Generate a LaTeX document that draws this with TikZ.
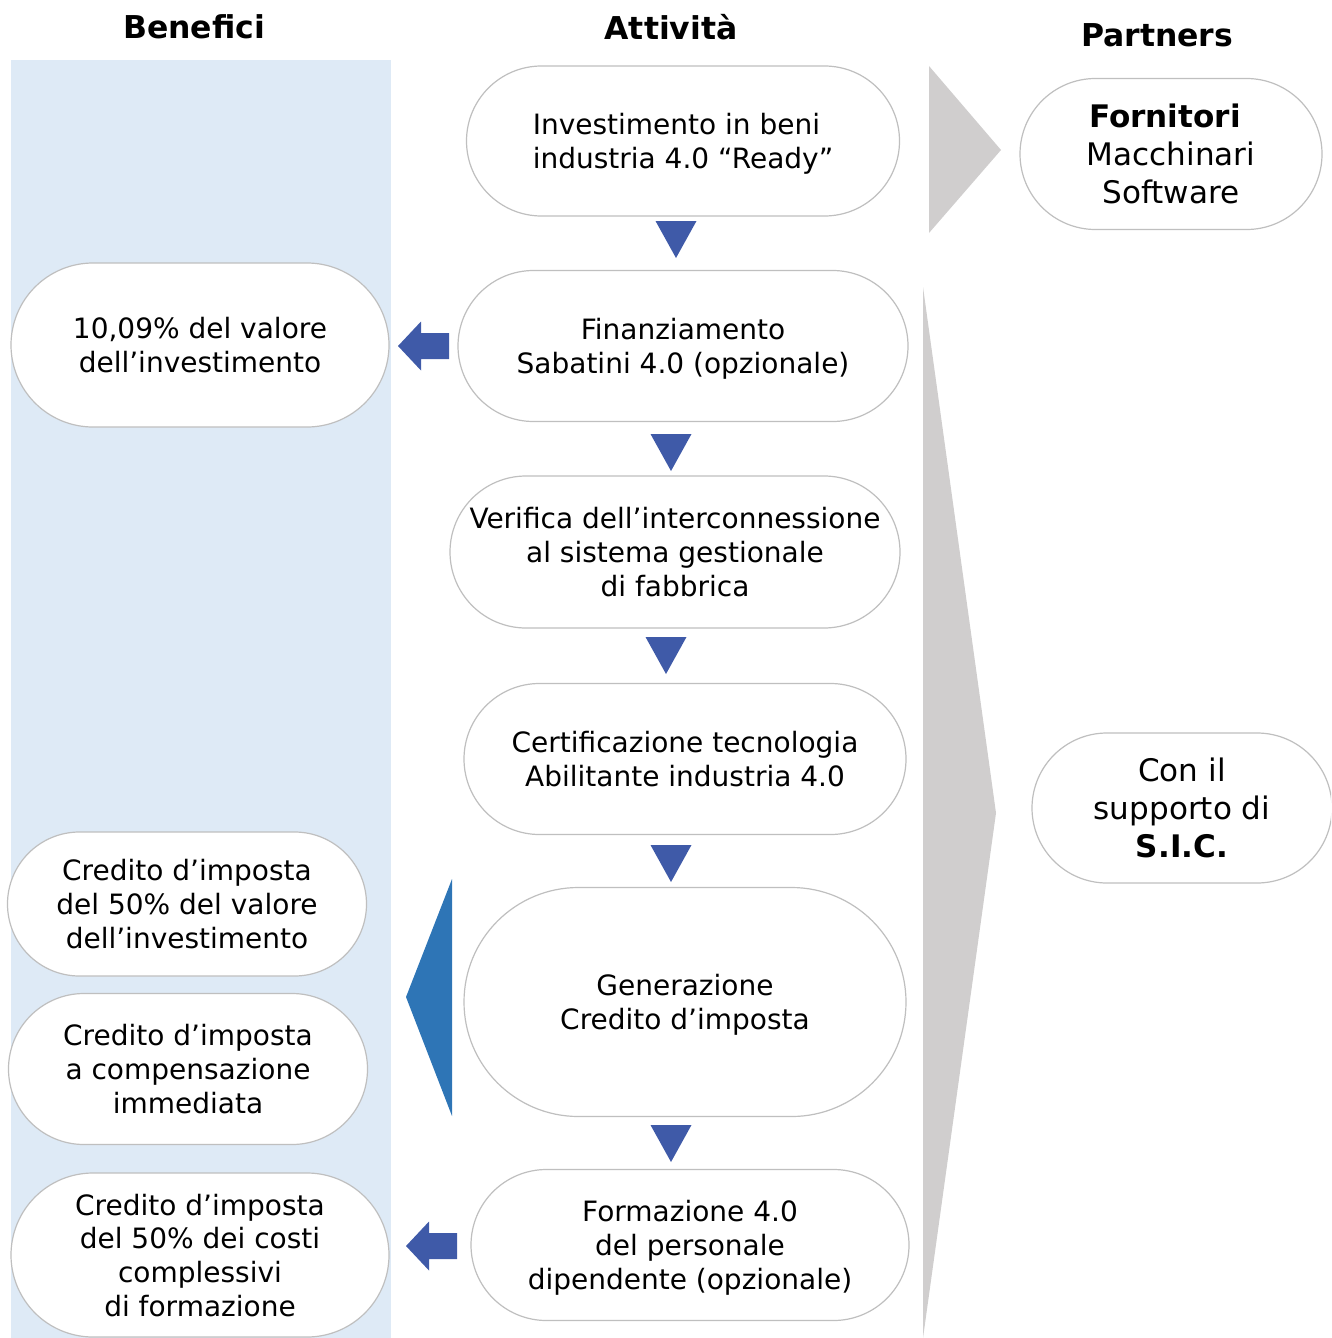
\documentclass[tikz,border=0pt]{standalone}
\usepackage{fontspec}
\setmainfont{DejaVu Sans}
\usepackage{xcolor}
\usepackage{tikz}
\usetikzlibrary{positioning,calc}

\definecolor{panelblue}{HTML}{DEEAF6}
\definecolor{flowblue}{HTML}{3F5AA8}
\definecolor{bigblue}{HTML}{2E75B6}
\definecolor{partgray}{HTML}{D0CECE}
\definecolor{edgegray}{HTML}{BFBFBF}

\begin{document}
\begin{tikzpicture}[x=0.75pt, y=-0.75pt,
        block/.style 2 args={draw=edgegray, line width=0.9pt, fill=white, rectangle, align=center, inner sep=0pt,
            minimum width=#1*0.75pt, minimum height=#2*0.75pt, rounded corners=#2*0.375pt,
            text depth=0pt, font=\fontsize{21}{25.3}\selectfont},
        partner/.style={font=\fontsize{23.3}{28.5}\selectfont},
        title/.style={font=\bfseries\fontsize{23.6}{28}\selectfont},
        flow/.style={fill=flowblue}
    ]
        \clip (0,0) rectangle (1331,1338);
        \fill[panelblue] (11,60) rectangle (391,1338);

        % partner triangles
        \fill[partgray] (929,66) -- (1001,150) -- (929,233) -- cycle;
        \fill[partgray] (923,287) -- (996,813) -- (923,1338) -- cycle;

        \node [title] (hben) at (194,27) {Benefici};
        \node [title] (hatt) at (671,27) {Attività};
        \node [title] (hpar) at (1157,35) {Partners};

        % attivita
        \node [block={433}{150}, align=left] (inv) at (683,141) {Investimento in beni\\industria 4.0 “Ready”};
        \node [block={450}{151}] (fin) at (683,346) {Finanziamento\\Sabatini 4.0 (opzionale)};
        \node [block={450}{152}] (ver) at (675,552) {Verifica dell’interconnessione\\al sistema gestionale\\di fabbrica};
        \node [block={442}{151}] (cert) at (685,759) {Certificazione tecnologia\\Abilitante industria 4.0};
        \node [block={442}{229}] (gen) at (685,1002) {Generazione\\Credito d’imposta};
        \node [block={438}{151}] (form) at (690,1245) {Formazione 4.0\\del personale\\dipendente (opzionale)};

        % benefici
        \node [block={378}{164}] (perc) at (200,345) {10,09\% del valore\\dell’investimento};
        \node [block={359}{144}] (cred) at (187,904) {Credito d’imposta\\del 50\% del valore\\dell’investimento};
        \node [block={359}{151}] (comp) at (188,1069) {Credito d’imposta\\a compensazione\\immediata};
        \node [block={378}{164}] (costi) at (200,1255) {Credito d’imposta\\del 50\% dei costi\\complessivi\\di formazione};

        % partners
        \node [block={302}{151}, partner] (forn) at (1171,154) {\textbf{Fornitori}\hspace*{9pt}\\Macchinari\\Software};
        \node [block={300}{150}, partner] (sic) at (1182,808) {Con il\\supporto di\\\textbf{S.I.C.}};

        % flow
        \foreach \x/\y in {676/221, 671/434, 666/637, 671/845, 671/1125}
            \fill[flow] (\x-20.5,\y) -- (\x+20.5,\y) -- (\x,\y+37) -- cycle;

        \foreach \x/\y in {398/346, 406/1246}
            \fill[flow] (\x,\y) -- (\x+23,\y-24.5) -- (\x+23,\y-13) -- (\x+51,\y-13)
                -- (\x+51,\y+13) -- (\x+23,\y+13) -- (\x+23,\y+24.5) -- cycle;

        \fill[bigblue] (452,879) -- (406,997) -- (452,1116) -- cycle;
    \end{tikzpicture}
\end{document}
